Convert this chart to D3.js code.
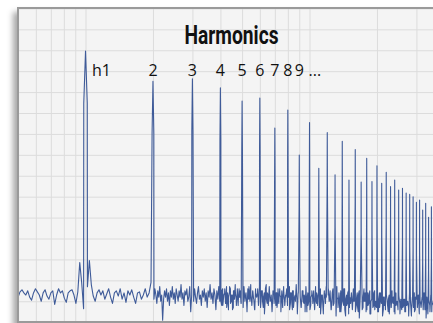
<!DOCTYPE html>
<html>
<head>
<meta charset="utf-8">
<script src="https://cdn.jsdelivr.net/npm/d3@7"></script>
<style>
  html, body { margin: 0; padding: 0; background: #fff; width: 433px; height: 323px; overflow: hidden; }
  #frame {
    position: absolute; left: 17px; top: 7px; width: 480px; height: 312px;
    border: 2px solid #9a9a9a; background: #f4f4f4;
    box-shadow: -4px 5px 6px rgba(0, 0, 0, 0.35);
  }
  #chart { position: absolute; left: 0; top: 0; }
  .grid line { stroke: #dcdcdc; stroke-width: 1; }
  .label { font-family: "Open Sans", "Noto Sans", sans-serif; font-size: 16px; fill: #111; }
  .title { font-family: "Liberation Sans Narrow", "Roboto", sans-serif; font-weight: bold; font-size: 25px; fill: #111; }
</style>
</head>
<body>
<div id="frame"></div>
<svg id="chart" width="433" height="323"></svg>
<script>
// fundamental (Hz) and harmonic peak levels (dB), h1..h36
const fundamental = 100;
const harmonicDb = [
  -20.4, -34.8, -33.6, -38.0, -44.3, -42.8, -57.2, -48.6, -70.1, -54.6,
  -76.4, -59.4, -79.6, -63.5, -82.0, -67.5, -83.0, -71.7, -82.8, -75.2,
  -83.6, -78.3, -85.2, -82.0, -86.8, -86.0, -88.3, -88.9, -90.0, -92.7,
  -91.6, -96.4, -93.2, -99.9, -94.8, -97.5
];

// noise floor, 50..198 Hz in 2% steps (dB)
const noiseLowStart = 50, noiseLowStep = 1.02;
const noiseLowDb = [
  -138, -135.5, -134.5, -136, -137, -135, -138, -139.5, -136, -134,
  -135.5, -137, -140, -136, -134.5, -137.5, -139, -136, -135, -141.5,
  -137, -134, -136, -135, -138.5, -140.5, -136, -135, -134.5, -137,
  -141, -135.5, -121.5, -131, -143.5, -138, -133, -120.5, -132, -137.5,
  -140, -136, -134.5, -137, -135, -139, -136.5, -134, -138, -141,
  -136, -135, -137.5, -134, -139, -136, -140.5, -135, -137, -134.5,
  -138, -141, -136, -135.5, -139, -137, -134, -138, -136, -131
];

// noise floor, 200 Hz upward in 1% steps (dB)
const noiseHighStart = 200, noiseHighStep = 1.01;
const noiseHighDb = [
  -136, -139, -134, -137, -141, -135, -138, -133, -140, -137, -149, -139, -135, -138, -134, -140, -136, -142, -135, -138,
  -133, -139, -136, -141, -134, -137, -140, -135, -138, -132, -139, -136, -142, -135, -137, -134, -140, -138, -133, -145,
  -137, -135, -140, -134, -138, -141, -136, -133, -139, -137, -142, -135, -138, -134, -140, -136, -143, -135, -138, -132,
  -139, -136, -141, -134, -137, -144, -135, -139, -133, -140, -137, -142, -134, -138, -136, -141, -133, -139, -144, -136,
  -134, -140, -137, -143, -135, -132, -139, -136, -142, -134, -138, -141, -135, -137, -133, -140, -136, -143, -134, -139,
  -137, -132, -141, -135, -139, -144, -134, -138, -136, -142, -133, -140, -137, -135, -143, -136, -139, -132, -141, -137,
  -134, -140, -138, -145, -135, -137, -133, -142, -136, -139, -141, -134, -138, -136, -143, -133, -140, -137, -135, -142,
  -138, -133, -141, -136, -144, -135, -139, -137, -132, -142, -136, -140, -134, -143, -137, -135, -141, -138, -133, -145,
  -136, -140, -134, -142, -137, -139, -135, -144, -133, -141, -138, -136, -143, -134, -140, -137, -146, -135, -139, -133,
  -142, -137, -140, -135, -144, -138, -134, -141, -136, -143, -133, -139, -137, -145, -135, -140, -138, -142, -134, -147,
  -137, -141, -135, -143, -139, -136, -144, -134, -140, -138, -142, -136, -145, -135, -139, -141, -137, -143, -134, -140,
  -138, -144, -136, -141, -135, -146, -139, -137, -142, -135, -140, -143, -137, -145, -136, -139, -141, -134, -144, -138,
  -142, -136, -140, -145, -137, -139, -143, -135, -141, -138, -146, -136, -140, -143, -137, -141, -139, -144, -136, -142,
  -139, -145, -137, -141, -143, -136, -140, -147, -138, -142, -136, -144, -139, -141, -137, -145, -140, -143, -138, -142,
  -136, -144, -140, -138, -146, -139, -142, -137, -145, -141, -139, -143, -140
];

// extra noise bins between the 1% steps, 402 Hz upward (dB)
const noiseDenseStart = 402, noiseDenseStep = 1.01;
const noiseDenseDb = [
  -140, -135, -142, -137, -134, -139, -143, -136, -138, -133, -141, -137, -144, -135, -139, -136, -142, -134, -140, -138,
  -135, -141, -137, -143, -134, -139, -136, -145, -138, -133, -140, -137, -142, -135, -139, -144, -136, -138, -134, -141,
  -137, -143, -135, -140, -138, -146, -134, -139, -136, -142, -133, -140, -137, -144, -135, -141, -138, -136, -143, -134,
  -139, -137, -145, -135, -140, -136, -142, -138, -134, -141, -137, -144, -136, -139, -135, -143, -138, -140, -134, -146,
  -136, -141, -138, -143, -135, -140, -137, -145, -134, -139, -142, -136, -144, -138, -135, -141, -137, -143, -139, -136,
  -142, -135, -140, -146, -137, -139, -143, -136, -141, -138, -145, -134, -140, -137, -144, -136, -142, -139, -135, -147,
  -138, -143, -136, -141, -145, -137, -140, -134, -144, -139, -142, -136, -146, -138, -141, -137, -143, -140, -135, -145,
  -139, -142, -137, -148, -136, -141, -144, -138, -140, -136, -145, -139, -142, -137, -146, -140, -138, -143, -136, -144,
  -141, -137, -145, -139, -143, -136, -140, -147, -138, -142, -144, -137, -141, -139, -146, -136, -143, -140, -138, -145,
  -137, -142, -140, -144, -138, -146, -141, -136, -143, -139, -145, -137, -142, -140, -147, -138, -141, -144, -139, -143,
  -145, -138, -141, -143, -137, -146, -140, -142, -139, -144, -136, -141, -148, -139, -143, -140, -145, -138, -142, -141,
  -144, -139
];

const labels = ["h1", "2", "3", "4", "5", "6", "7", "8", "9", "..."];
const title = "Harmonics";

// peak shape: shoulder offset (Hz) and drop below peak (dB)
const shoulderHz = 1.8, shoulderDrop = 25;

const svg = d3.select("#chart");
const plot = { left: 19, top: 9, right: 500, bottom: 321 };

svg.append("clipPath").attr("id", "clip")
  .append("rect")
  .attr("x", plot.left).attr("y", plot.top)
  .attr("width", plot.right - plot.left).attr("height", plot.bottom - plot.top);

const x = d3.scaleLog().domain([50, 5000]).range([18.1, 466.1]);
const y = d3.scaleLinear().domain([-150, 0]).range([322.2, 8.4]);

const body = svg.append("g").attr("clip-path", "url(#clip)");

// grid
body.append("g")
  .attr("class", "grid")
  .attr("transform", `translate(0,${plot.bottom})`)
  .call(d3.axisBottom(x).tickValues(x.ticks()).tickSize(-(plot.bottom - plot.top)).tickFormat(""))
  .call(g => g.select(".domain").remove());

body.append("g")
  .attr("class", "grid")
  .attr("transform", `translate(${plot.left},0)`)
  .call(d3.axisLeft(y).ticks(15).tickSize(-(plot.right - plot.left)).tickFormat(""))
  .call(g => g.select(".domain").remove());

// spectrum points
const peaks = [];
harmonicDb.forEach((db, i) => {
  const f = fundamental * (i + 1);
  peaks.push([f - shoulderHz, db - shoulderDrop], [f, db], [f + shoulderHz, db - shoulderDrop]);
});
const centres = harmonicDb.map((d, i) => fundamental * (i + 1));
const nearPeak = f => centres.some(c => Math.abs(f - c) < shoulderHz);

const noise = [];
noiseLowDb.forEach((db, i) => noise.push([noiseLowStart * Math.pow(noiseLowStep, i), db]));
noiseHighDb.forEach((db, i) => noise.push([noiseHighStart * Math.pow(noiseHighStep, i), db]));
noiseDenseDb.forEach((db, i) => noise.push([noiseDenseStart * Math.pow(noiseDenseStep, i), db]));

const spectrum = noise.filter(d => !nearPeak(d[0])).concat(peaks)
  .sort((a, b) => a[0] - b[0]);

const line = d3.line()
  .x(d => x(d[0]))
  .y(d => y(d[1]));

body.append("path")
  .datum(spectrum)
  .attr("fill", "none")
  .attr("stroke", "#3f5b99")
  .attr("stroke-width", 1.1)
  .attr("stroke-linejoin", "round")
  .attr("d", line);

// title and harmonic labels
svg.append("text")
  .attr("class", "title")
  .attr("x", 184.5)
  .attr("y", 43.5)
  .attr("textLength", 94)
  .attr("lengthAdjust", "spacingAndGlyphs")
  .text(title);

svg.selectAll(".label")
  .data(labels)
  .enter()
  .append("text")
  .attr("class", "label")
  .attr("x", (d, i) => {
    const px = x(fundamental * (i + 1));
    if (i === 0) return px + 6.5;
    if (i === labels.length - 1) return px - 1;
    return px;
  })
  .attr("y", 76)
  .attr("text-anchor", (d, i) => (i === 0 || i === labels.length - 1) ? "start" : "middle")
  .text(d => d);
</script>
</body>
</html>
